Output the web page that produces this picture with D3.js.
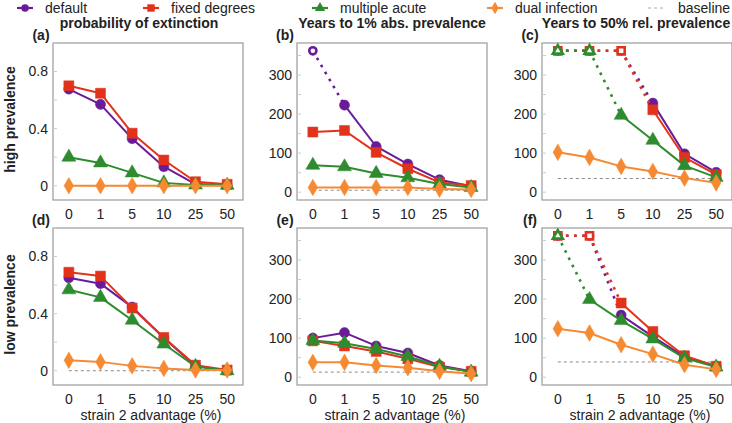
<!DOCTYPE html>
<html><head><meta charset="utf-8">
<script src="https://cdn.jsdelivr.net/npm/d3@7"></script>
<style>
body{margin:0;background:#fff;}
text{font-family:"Liberation Sans",Arial,sans-serif;fill:#222;}
</style></head>
<body><svg id="chart" width="732" height="423"></svg>
<script>
const categories = ["0","1","5","10","25","50"];
const seriesNames = ["default","fixed degrees","multiple acute","dual infection"];
const colors = ["#6a1b9a","#e2321a","#2e8b2e","#f68a33"];
const CAP = 362; // simulation limit: shown as open marker + dotted line

const aDefault = [0.677,0.57,0.33,0.133,0.012,0.003];
const aFixed   = [0.70,0.648,0.368,0.18,0.028,0.01];
const aMultiple= [0.20,0.16,0.09,0.02,0.005,0.003];
const aDual    = [0,0,0,0,0,0];
const aBaseline = 0;

const bDefault = [362,223,117,72,32,15];
const bFixed   = [154,158,102,60,25,17];
const bMultiple= [69,65,48,37,21,12];
const bDual    = [12,12,12,12,8,7];
const bBaseline = 5;

const cDefault = [362,362,362,228,98,51];
const cFixed   = [362,362,362,211,89,45];
const cMultiple= [362,362,197,133,68,38];
const cDual    = [102,89,66,53,36,24];
const cBaseline = 35;

const dDefault = [0.651,0.61,0.446,0.229,0.034,0];
const dFixed   = [0.69,0.663,0.439,0.233,0.039,0.005];
const dMultiple= [0.567,0.514,0.354,0.187,0.03,0];
const dDual    = [0.073,0.062,0.034,0.016,0.005,0.005];
const dBaseline = 0;

const eDefault = [100,114,80,62,30,15];
const eFixed   = [93,80,66,47,26,15];
const eMultiple= [94,87,72,53,28,13];
const eDual    = [38,38,30,24,15,9];
const eBaseline = 13;

const fDefault = [362,362,159,104,52,28];
const fFixed   = [362,362,190,117,55,28];
const fMultiple= [362,199,145,98,49,26];
const fDual    = [124,113,83,59,32,20];
const fBaseline = 39;

const probTicks = [0,0.4,0.8];
const yearTicks = [0,100,200,300];
const colTitles = ["probability of extinction","Years to 1% abs. prevalence","Years to 50% rel. prevalence"];
const rowTitles = ["high prevalence","low prevalence"];
const panelLabels = ["(a)","(b)","(c)","(d)","(e)","(f)"];

const panels = [
 {lab:0,row:0,col:0,type:"prob",s:[aDefault,aFixed,aMultiple,aDual],base:aBaseline},
 {lab:1,row:0,col:1,type:"year",s:[bDefault,bFixed,bMultiple,bDual],base:bBaseline},
 {lab:2,row:0,col:2,type:"year",s:[cDefault,cFixed,cMultiple,cDual],base:cBaseline},
 {lab:3,row:1,col:0,type:"prob",s:[dDefault,dFixed,dMultiple,dDual],base:dBaseline},
 {lab:4,row:1,col:1,type:"year",s:[eDefault,eFixed,eMultiple,eDual],base:eBaseline},
 {lab:5,row:1,col:2,type:"year",s:[fDefault,fFixed,fMultiple,fDual],base:fBaseline},
];

const svg = d3.select("#chart");
const colX = [53,297,542], W = 190;
const rowY = [43,228], H = 157;
const symTypes = [d3.symbolCircle,d3.symbolSquare,d3.symbolTriangle,d3.symbolDiamond];
const symSizes = [80,100,85,80];

panels.forEach(p=>{
  const x0 = colX[p.col], y0 = rowY[p.row];
  const g = svg.append("g").attr("transform",`translate(${x0},${y0})`);
  const x = d3.scalePoint().domain(categories).range([0,W]).padding(0.5);
  const y = d3.scaleLinear().domain(p.type==="prob"?[-0.1,1.0]:[-20,382]).range([H,0]);
  g.append("rect").attr("width",W).attr("height",H).attr("fill","none").attr("stroke","#9a9a9a").attr("stroke-width",1.2);
  const minor = p.type==="prob"?[0,0.2,0.4,0.6,0.8,1.0]:[0,50,100,150,200,250,300,350];
  g.selectAll(".mt").data(minor).join("line").attr("x1",0).attr("x2",4)
    .attr("y1",d=>y(d)).attr("y2",d=>y(d)).attr("stroke","#cccccc");
  const ticks = p.type==="prob"?probTicks:yearTicks;
  g.selectAll(".yl").data(ticks).join("text").attr("x",-5).attr("y",d=>y(d)).attr("dy","0.35em")
    .attr("text-anchor","end").attr("font-size",14).text(d=>p.type==="prob"?(d===0?"0":d3.format(".1f")(d)):d);
  g.selectAll(".xl").data(categories).join("text").attr("x",d=>x(d)).attr("y",H+14)
    .attr("dy","0.35em").attr("text-anchor","middle").attr("font-size",14).text(d=>d);
  if(p.row===1){
    g.append("text").attr("x",W/2+3).attr("y",H+30).attr("dy","0.35em").attr("text-anchor","middle")
      .attr("font-size",14).text("strain 2 advantage (%)");
  }
  g.append("line").attr("x1",x(categories[0])).attr("x2",x(categories[5]))
    .attr("y1",y(p.base)).attr("y2",y(p.base)).attr("stroke","#8a8a8a").attr("stroke-width",1)
    .attr("stroke-dasharray","3,3");
  p.s.forEach((vals,si)=>{
    const col = colors[si];
    for(let i=0;i<vals.length-1;i++){
      const capped = vals[i]>=CAP || vals[i+1]>=CAP;
      g.append("line").attr("x1",x(categories[i])).attr("y1",y(vals[i]))
        .attr("x2",x(categories[i+1])).attr("y2",y(vals[i+1]))
        .attr("stroke",col).attr("stroke-width",capped?2.6:2)
        .attr("stroke-dasharray",capped?"2.6,5.5":null);
    }
    vals.forEach((v,i)=>{
      const open = v>=CAP;
      g.append("path").attr("transform",`translate(${x(categories[i])},${y(v)})`)
        .attr("d",d3.symbol().type(symTypes[si]).size(open?symSizes[si]*0.5:symSizes[si])())
        .attr("fill",open?"#fff":col).attr("stroke",col).attr("stroke-width",open?2.6:0.5);
    });
  });
  svg.append("text").attr("x",x0-12).attr("y",y0-3).attr("text-anchor","middle")
    .attr("font-size",14).attr("font-weight","bold").text(panelLabels[p.lab]);
});

const titleX = [139,392,636];
colTitles.forEach((t,i)=>svg.append("text").attr("x",titleX[i]).attr("y",28).attr("text-anchor","middle")
  .attr("font-size",14).attr("font-weight","bold").text(t));
rowTitles.forEach((t,i)=>svg.append("text").attr("transform",`translate(15,${rowY[i]+H/2-2}) rotate(-90)`)
  .attr("text-anchor","middle").attr("font-size",14).attr("font-weight","bold").text(t));

const legY = 8;
const legX = [25,151,320,495];
const legend = svg.append("g");
seriesNames.forEach((n,i)=>{
  legend.append("line").attr("x1",legX[i]-8).attr("x2",legX[i]+8).attr("y1",legY).attr("y2",legY)
    .attr("stroke",colors[i]).attr("stroke-width",2.2);
  legend.append("path").attr("transform",`translate(${legX[i]},${legY})`)
    .attr("d",d3.symbol().type(symTypes[i]).size(symSizes[i]*0.55)()).attr("fill",colors[i]);
  legend.append("text").attr("x",legX[i]+20).attr("y",legY).attr("dy","0.35em").attr("font-size",14).text(n);
});
legend.append("line").attr("x1",648).attr("x2",664).attr("y1",legY).attr("y2",legY)
  .attr("stroke","#aaa").attr("stroke-dasharray","3,3");
legend.append("text").attr("x",678).attr("y",legY).attr("dy","0.35em").attr("font-size",14).text("baseline");
</script></body></html>
